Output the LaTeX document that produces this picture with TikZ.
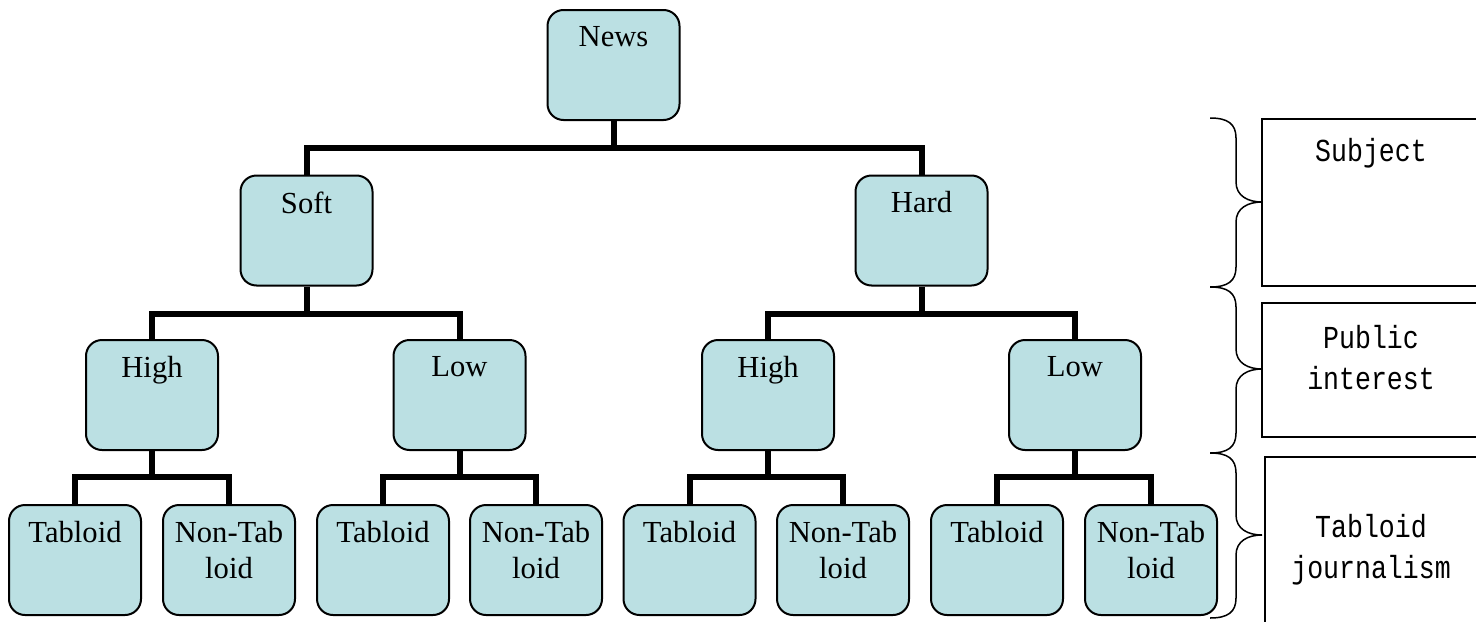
\documentclass[tikz,border=0pt]{standalone}
\usepackage{fontspec}
\setmainfont{Liberation Serif}
\newfontfamily\monof[FakeStretch=0.83]{Liberation Mono}
\definecolor{boxfill}{RGB}{187,224,227}
\newcommand\sidebrace[3]{\draw[brc] (1210,#1) .. controls (1228,#1) and (1236,#1+6) .. (1236,#1+20) -- (1236,#3-20) .. controls (1236,#3-6) and (1248,#3) .. (1262,#3) .. controls (1248,#3) and (1236,#3+6) .. (1236,#3+20) -- (1236,#2-20) .. controls (1236,#2-6) and (1228,#2) .. (1210,#2);}
\begin{document}
\begin{tikzpicture}[x=0.5pt,y=-0.5pt,
  bx/.style={draw=black, line width=1pt, fill=boxfill, rounded corners=8pt, minimum width=66pt, minimum height=55pt, inner sep=0pt},
  lbl/.style={anchor=north, inner sep=0pt, align=center, font=\fontsize{15.3}{18}\selectfont, yshift=-8.3pt},
  conn/.style={line width=3pt},
  brc/.style={line width=0.75pt},
  side/.style={draw, line width=0.8pt},
  sidetxt/.style={align=center, font=\monof\fontsize{16}{20.5}\selectfont, inner sep=0pt}]
\useasboundingbox (0,0) rectangle (1476,621);
\clip (0,0) rectangle (1476,621);
% boxes
\node[bx] (news) at (613.5,65) {};
\node[bx] (soft) at (306.5,230.5) {};
\node[bx] (hard) at (921.5,230.5) {};
\node[bx] (h1) at (152,395) {};
\node[bx] (l1) at (459.5,395) {};
\node[bx] (h2) at (768,395) {};
\node[bx] (l2) at (1075,395) {};
\node[bx] (t1) at (75,560) {};
\node[bx] (n1) at (229,560) {};
\node[bx] (t2) at (383,560) {};
\node[bx] (n2) at (536,560) {};
\node[bx] (t3) at (689.5,560) {};
\node[bx] (n3) at (843,560) {};
\node[bx] (t4) at (997,560) {};
\node[bx] (n4) at (1151,560) {};
% labels
\node[lbl] (newsT) at (news.north) {News};
\node[lbl] (softT) at (soft.north) {Soft};
\node[lbl] (hardT) at (hard.north) {Hard};
\node[lbl] (h1T) at (h1.north) {High};
\node[lbl] (l1T) at (l1.north) {Low};
\node[lbl] (h2T) at (h2.north) {High};
\node[lbl] (l2T) at (l2.north) {Low};
\node[lbl] (t1T) at (t1.north) {Tabloid};
\node[lbl] (n1T) at (n1.north) {Non-Tab\\loid};
\node[lbl] (t2T) at (t2.north) {Tabloid};
\node[lbl] (n2T) at (n2.north) {Non-Tab\\loid};
\node[lbl] (t3T) at (t3.north) {Tabloid};
\node[lbl] (n3T) at (n3.north) {Non-Tab\\loid};
\node[lbl] (t4T) at (t4.north) {Tabloid};
\node[lbl] (n4T) at (n4.north) {Non-Tab\\loid};
% bar junctions
\coordinate (b0) at (613.5,148);
\coordinate (b1) at (306.5,314);
\coordinate (b2) at (921.5,314);
\coordinate (c1) at (152,477);
\coordinate (c2) at (459.5,477);
\coordinate (c3) at (768,477);
\coordinate (c4) at (1075,477);
% connectors
\draw[conn] (news.south) -- (b0);
\draw[conn] (soft.north) |- (b0) -| (hard.north);
\draw[conn] (soft.south) -- (b1);
\draw[conn] (h1.north) |- (b1) -| (l1.north);
\draw[conn] (hard.south) -- (b2);
\draw[conn] (h2.north) |- (b2) -| (l2.north);
\draw[conn] (h1.south) -- (c1);
\draw[conn] (t1.north) |- (c1) -| (n1.north);
\draw[conn] (l1.south) -- (c2);
\draw[conn] (t2.north) |- (c2) -| (n2.north);
\draw[conn] (h2.south) -- (c3);
\draw[conn] (t3.north) |- (c3) -| (n3.north);
\draw[conn] (l2.south) -- (c4);
\draw[conn] (t4.north) |- (c4) -| (n4.north);
% braces
\sidebrace{118}{287}{202}
\sidebrace{287}{453}{369}
\sidebrace{453}{618}{535}
% side boxes
\draw[side] (1262,119) rectangle (1490,286);
\draw[side] (1262,303) rectangle (1490,437);
\draw[side] (1265,457) rectangle (1490,630);
\node[sidetxt] (subj) at (1371,153) {Subject};
\node[sidetxt] (pub) at (1371,357.5) {Public\\interest};
\node[sidetxt] (tab) at (1371,550) {Tabloid\\journalism};
\end{tikzpicture}
\end{document}
